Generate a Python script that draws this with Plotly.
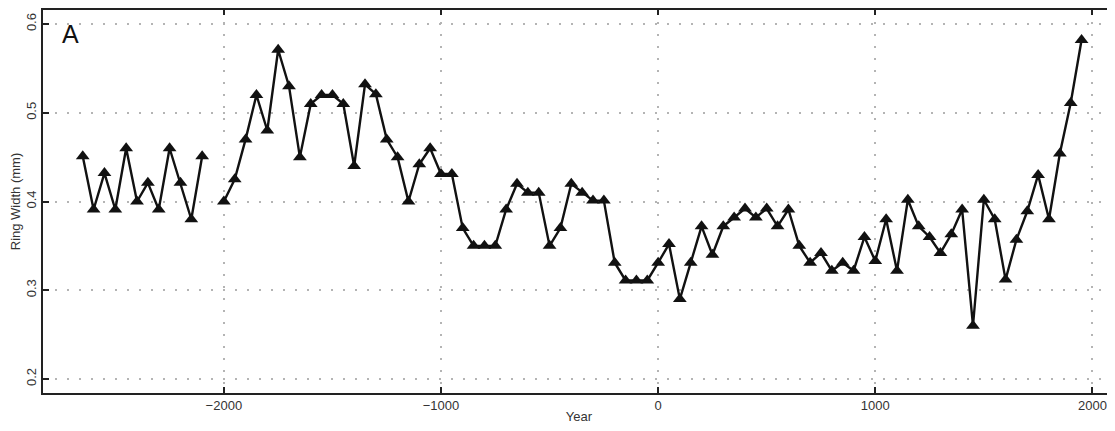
import plotly.graph_objects as go

years = [-2650, -2600, -2550, -2500, -2450, -2400, -2350, -2300, -2250, -2200, -2150, -2100,
         -2050,
         -2000, -1950, -1900, -1850, -1800, -1750, -1700, -1650, -1600, -1550,
         -1500, -1450, -1400, -1350, -1300, -1250, -1200, -1150, -1100, -1050,
         -1000, -950, -900, -850, -800, -750, -700, -650, -600, -550,
         -500, -450, -400, -350, -300, -250, -200, -150, -100, -50,
         0, 50, 100, 150, 200, 250, 300, 350, 400, 450,
         500, 550, 600, 650, 700, 750, 800, 850, 900, 950,
         1000, 1050, 1100, 1150, 1200, 1250, 1300, 1350, 1400, 1450,
         1500, 1550, 1600, 1650, 1700, 1750, 1800, 1850, 1900, 1950]
ring_width = [0.451, 0.391, 0.432, 0.391, 0.460, 0.400, 0.421, 0.391, 0.460, 0.421, 0.380, 0.451,
              None,
              0.400, 0.425, 0.470, 0.520, 0.480, 0.571, 0.530, 0.450, 0.510, 0.520,
              0.520, 0.510, 0.440, 0.532, 0.521, 0.470, 0.450, 0.400, 0.442, 0.460,
              0.431, 0.431, 0.370, 0.350, 0.350, 0.350, 0.391, 0.420, 0.410, 0.410,
              0.350, 0.370, 0.420, 0.410, 0.401, 0.401, 0.331, 0.311, 0.311, 0.311,
              0.331, 0.352, 0.290, 0.331, 0.372, 0.340, 0.372, 0.382, 0.392, 0.382,
              0.392, 0.372, 0.391, 0.350, 0.331, 0.342, 0.322, 0.331, 0.322, 0.360,
              0.333, 0.380, 0.322, 0.402, 0.372, 0.360, 0.342, 0.363, 0.391, 0.260,
              0.402, 0.380, 0.312, 0.357, 0.389, 0.430, 0.380, 0.454, 0.511, 0.582]

x_ticks = [-2000, -1000, 0, 1000, 2000]
y_ticks = [0.2, 0.3, 0.4, 0.5, 0.6]
y_tick_labels = ["0.2", "0.3", "0.4", "0.5", "0.6"]

font_family = "Liberation Sans, Arial, Helvetica, sans-serif"
grid_color = "#b4b4b4"
axis_color = "#222222"
text_color = "#333333"

fig = go.Figure()
fig.add_trace(go.Scatter(
    x=years, y=ring_width, mode="lines+markers",
    line=dict(color="#111111", width=2.4),
    marker=dict(symbol="triangle-up", size=12, color="#111111"),
    connectgaps=False, showlegend=False, hoverinfo="x+y",
))
# invisible trace so the top axis (tick marks only) is drawn
fig.add_trace(go.Scatter(
    x=years[:1], y=ring_width[:1], xaxis="x2", mode="markers",
    marker=dict(opacity=0), showlegend=False, hoverinfo="skip",
))

x_range = [-2833, 2104]

fig.update_layout(
    width=1107, height=423,
    margin=dict(l=35, r=0, t=2, b=38),
    paper_bgcolor="white", plot_bgcolor="white",
    font=dict(family=font_family, color=text_color, size=13),
    xaxis=dict(
        range=x_range, tickvals=x_ticks, ticks="inside", ticklen=6, tickwidth=1.5,
        tickcolor=axis_color, showline=True, linecolor=axis_color, linewidth=1.5,
        showgrid=True, gridcolor=grid_color, griddash="2px,10px", gridwidth=1.5,
        zeroline=False, tickfont=dict(size=13, color=text_color),
        title=dict(text="Year", font=dict(size=13, color=text_color), standoff=0),
    ),
    xaxis2=dict(
        range=x_range, tickvals=x_ticks, overlaying="x", side="top", anchor="y",
        ticks="inside", ticklen=5, tickwidth=1.5, tickcolor=axis_color,
        showline=True, linecolor=axis_color, linewidth=1.5,
        showticklabels=False, showgrid=False, zeroline=False,
    ),
    yaxis=dict(
        range=[0.1842, 0.6158], tickvals=y_ticks, ticktext=y_tick_labels,
        ticks="inside", ticklen=6, tickwidth=1.5, tickcolor=axis_color,
        showline=True, linecolor=axis_color, linewidth=1.5,
        showgrid=True, gridcolor=grid_color, griddash="2px,10px", gridwidth=1.5,
        zeroline=False, tickangle=-90, tickfont=dict(size=13, color=text_color),
        title=dict(text="Ring Width (mm)", font=dict(size=13, color=text_color), standoff=2),
    ),
    annotations=[dict(
        text="A", xref="paper", yref="paper", x=0.016, y=1.0, xanchor="left",
        yanchor="top", showarrow=False, yshift=-8,
        font=dict(size=25, color="#111111", family=font_family),
    )],
)

fig.write_html("out.html")
